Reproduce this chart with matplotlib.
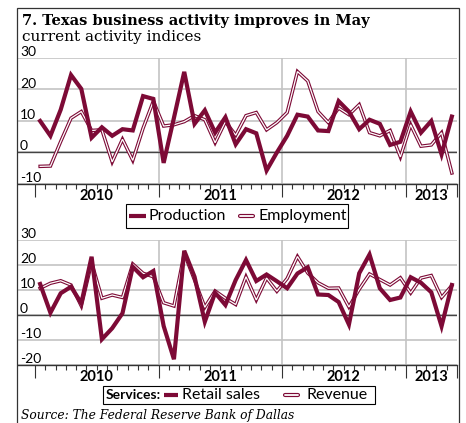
import matplotlib
matplotlib.use('Agg')
import matplotlib.pyplot as plt
import numpy as np
from matplotlib.lines import Line2D
from matplotlib.patches import Rectangle

# monthly index values, Jan 2010 .. May 2013
production = [10, 5.3, 13.6, 24.6, 20.2, 4.7, 8.0, 5.3, 7.4, 7.0,
              17.9, 17.0, -3.3, 11, 25.6, 9.1, 13.4, 6.3, 11.2, 2.6,
              7.4, 6.1, -5.7, 0, 5.3, 12, 11.4, 7.0, 6.8, 16.3,
              13, 7.4, 10.4, 9.1, 2.4, 3.4, 13, 6.3, 10, -0.6,
              11.4]
employment = [-4.4, -4.3, 3.5, 10.9, 13, 7, 7.2, -3, 4.2, -2.5,
              7.7, 16.3, 8.4, 8.8, 9.8, 11.7, 10.4, 3.1, 9.8, 5.5,
              11.7, 12.7, 7.2, 9.5, 12.7, 25.7, 22.7, 13, 9.5, 14.1,
              12, 15.2, 6.3, 5.3, 7, -1.4, 8.8, 2, 2.4, 6.3,
              -6.5]
retail = [12.4, 0.9, 8.7, 11.3, 4.7, 23.3, -9.7, -5.3, 0.7, 19.3,
          15.1, 17.6, -4.4, -17.7, 25.7, 15.3, -2.7, 8.9, 4, 14,
          22, 13.6, 16.2, 13.5, 10.7, 16.6, 19.1, 8.2, 8, 5.2,
          -3.8, 16.7, 24.2, 10.7, 6, 7, 15.1, 12.9, 9.1, -4.5,
          12]
revenue = [10.7, 12.7, 13.7, 12, 3.6, 21, 6.7, 8, 7, 20.4,
           16.7, 15.3, 4.9, 3.6, 24.7, 14, 3.1, 9.6, 6.7, 4.2,
           15.3, 6, 14.8, 9.5, 14.6, 23.4, 16.8, 12.9, 10.7, 10.8,
           3.2, 10.3, 16.4, 14.2, 12, 14.9, 8.8, 14.8, 15.8, 7,
           11.8]
years = ['2010', '2011', '2012', '2013']
year_pos = [6, 18, 30, 38.5]

RED = '#7d0a36'
GRID = '#c4c4c4'
SANS = 'Lato'
SERIF = 'DejaVu Serif'

W, H = 466, 423
def fx(px):
    return px / W
def fy(py):
    return 1 - py / H

x = np.arange(len(production)) + 0.5

fig = plt.figure(figsize=(W / 100, H / 100), dpi=100)
ax1 = fig.add_axes([fx(18), fy(184), fx(457) - fx(18), (184 - 58) / H])
ax2 = fig.add_axes([fx(18), fy(365), fx(457) - fx(18), (365 - 240) / H])


def hollow(ax, xs, ys):
    ax.plot(xs, ys, color=RED, lw=2.5, solid_joinstyle='miter', zorder=3)
    ax.plot(xs, ys, color='white', lw=0.9, solid_joinstyle='miter', zorder=3.1)


def thick(ax, xs, ys):
    ax.plot(xs, ys, color=RED, lw=3.0, solid_joinstyle='miter', zorder=4)


def setup(ax, lo, hi, ticks):
    ax.set_xlim(-1.65, 41)
    ax.set_ylim(lo, hi)
    for s in ['left', 'right', 'top']:
        ax.spines[s].set_visible(False)
    ax.spines['bottom'].set_color('#333333')
    ax.spines['bottom'].set_linewidth(1.0)
    ax.spines['bottom'].set_zorder(5)
    ax.set_yticks(ticks)
    ax.set_yticklabels([str(t) for t in ticks], fontsize=10, family=SANS)
    ax.tick_params(axis='y', length=0, pad=-1.5)
    for lab in ax.get_yticklabels():
        lab.set_ha('left')
        lab.set_va('bottom')
    ax.yaxis.grid(True, color=GRID, lw=1.2)
    ax.set_axisbelow(True)
    ax.axhline(0, color='#444444', lw=1.0, zorder=2)
    for v in (12, 24, 36):
        ax.axvline(v, color=GRID, lw=1.2, zorder=1)
    ax.set_xticks([0, 12, 24, 36, 41])
    ax.set_xticks(np.arange(1, 41), minor=True)
    ax.set_xticklabels([])
    ax.tick_params(axis='x', which='major', length=9, width=0.8, color='#333333')
    ax.tick_params(axis='x', which='minor', length=3.5, width=0.8, color='#333333')
    for yp, lab in zip(year_pos, years):
        ax.text(yp, -0.095, lab, transform=ax.get_xaxis_transform(),
                ha='center', va='center', fontsize=10.5, fontweight='bold',
                family=SANS)


setup(ax1, -10, 30, [30, 20, 10, 0, -10])
hollow(ax1, x, employment)
thick(ax1, x, production)

setup(ax2, -20, 30, [30, 20, 10, 0, -10, -20])
hollow(ax2, x, revenue)
thick(ax2, x, retail)

# outer frame
fig.add_artist(Rectangle((fx(17), -0.05), fx(459) - fx(17), fy(8) + 0.05,
                         fill=False, edgecolor='#333333', lw=0.9,
                         transform=fig.transFigure))

fig.text(fx(22), fy(25), '7. Texas business activity improves in May',
         fontsize=10.5, fontweight='bold', family=SERIF, va='baseline')
fig.text(fx(22), fy(41), 'current activity indices',
         fontsize=11, family=SERIF, va='baseline')


def key_thick(x0, x1, y):
    fig.add_artist(Line2D([fx(x0), fx(x1)], [fy(y), fy(y)], color=RED, lw=3,
                          solid_capstyle='butt', transform=fig.transFigure))


def key_hollow(x0, x1, y):
    fig.add_artist(Line2D([fx(x0), fx(x1)], [fy(y), fy(y)], color=RED, lw=3,
                          solid_capstyle='round', transform=fig.transFigure))
    fig.add_artist(Line2D([fx(x0), fx(x1)], [fy(y), fy(y)], color='white',
                          lw=1.3, solid_capstyle='round',
                          transform=fig.transFigure))


def key_box(x0, x1, y0, y1):
    fig.add_artist(Rectangle((fx(x0), fy(y1)), fx(x1) - fx(x0), (y1 - y0) / H,
                             fill=True, facecolor='white', edgecolor='black',
                             lw=0.8, transform=fig.transFigure))


# legend 1
key_box(126, 348, 204, 228)
key_thick(129, 146, 216)
fig.text(fx(149), fy(216), 'Production', fontsize=11.5, family=SANS, va='center')
key_hollow(240, 253, 216)
fig.text(fx(258), fy(216), 'Employment', fontsize=11.5, family=SANS, va='center')

# legend 2
key_box(103, 375, 386, 404)
fig.text(fx(106), fy(395), 'Services:', fontsize=10, family=SANS,
         fontweight='bold', va='center')
key_thick(164, 178, 395)
fig.text(fx(182), fy(395), 'Retail sales', fontsize=11.5, family=SANS, va='center')
key_hollow(285, 298, 395)
fig.text(fx(307), fy(395), 'Revenue', fontsize=11.5, family=SANS, va='center')

fig.text(fx(21), fy(415), 'Source: The Federal Reserve Bank of Dallas',
         fontsize=8.8, family=SERIF, style='italic', va='center')

fig.savefig('out.png', dpi=100)
